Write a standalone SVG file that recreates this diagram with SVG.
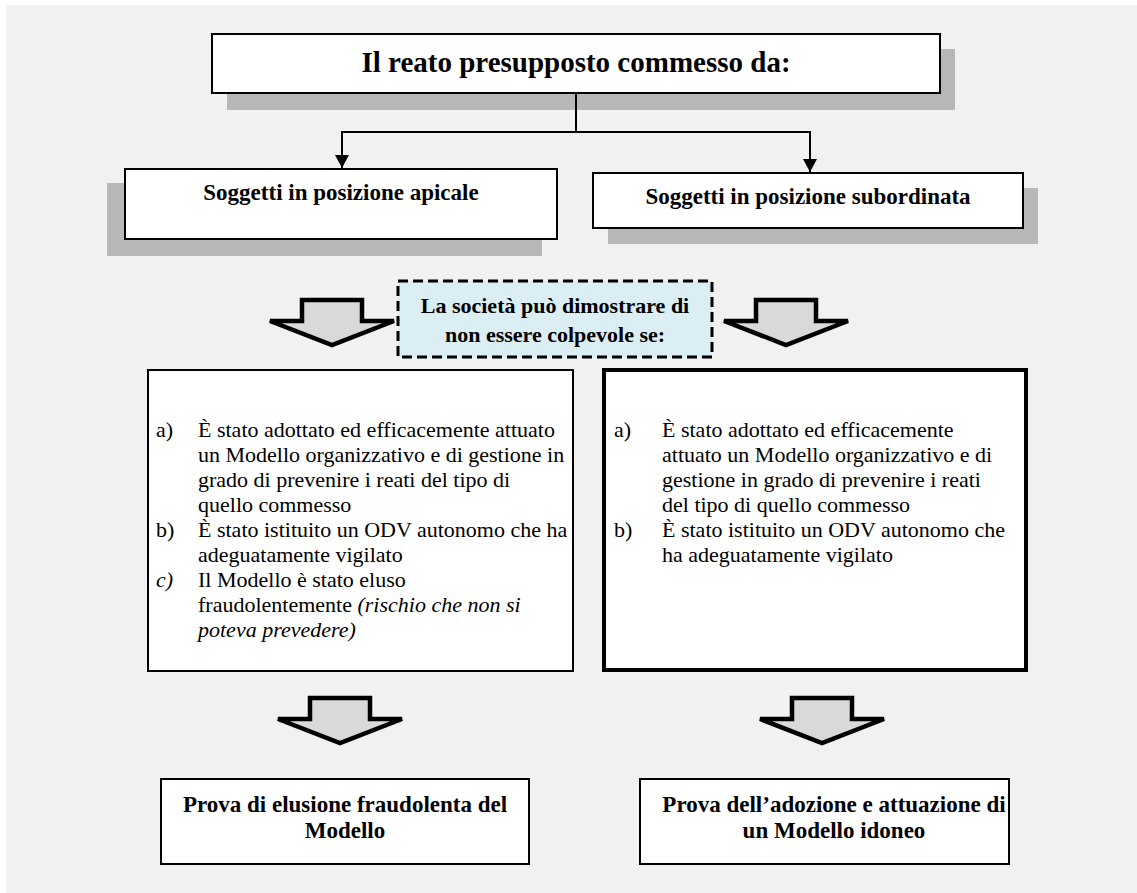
<svg xmlns="http://www.w3.org/2000/svg" width="1137" height="893" viewBox="0 0 1137 893">
<style>
.box{fill:#ffffff;stroke:#000;stroke-width:2}
.shadow{fill:#b7b7b7}
.lbl{font-family:"Liberation Serif","Times New Roman",serif;font-weight:bold;fill:#000;text-anchor:middle}
.txt{font-family:"Liberation Serif","Times New Roman",serif;font-size:22px;fill:#000}
.it{font-style:italic}
.conn{fill:none;stroke:#000;stroke-width:2}
.barrow{fill:#d9d9d9;stroke:#000;stroke-width:4.5;stroke-linejoin:miter}
</style>
<defs>
<marker id="ah" markerWidth="14" markerHeight="14" refX="13" refY="7" orient="auto" markerUnits="userSpaceOnUse" viewBox="0 0 14 14">
<path d="M0,0 L13,7 L0,14 Z" fill="#000"/>
</marker>
<polygon id="bigArrow" points="-30,0 30,0 30,21 62,21 0,45 -62,21 -30,21" class="barrow"/>
</defs>
<rect x="0" y="0" width="1137" height="893" fill="#ffffff"/>
<rect x="6" y="5" width="1131" height="888" fill="#f1f1f1"/>

<g id="top">
<rect class="shadow" x="227" y="49" width="728" height="61"/>
<rect class="box" x="212" y="34" width="728" height="59"/>
<text class="lbl" x="576" y="72" font-size="29">Il reato presupposto commesso da:</text>
</g>

<g id="apicale">
<rect class="shadow" x="107" y="183" width="435" height="73"/>
<rect class="box" x="125" y="169" width="432" height="70"/>
<text class="lbl" x="341" y="200" font-size="23">Soggetti in posizione apicale</text>
</g>

<g id="subordinata">
<rect class="shadow" x="608" y="188" width="430" height="56"/>
<rect class="box" x="593" y="173" width="430" height="55"/>
<text class="lbl" x="808" y="204" font-size="23">Soggetti in posizione subordinata</text>
</g>

<g id="societa">
<rect x="398" y="281" width="314" height="76" fill="#dbeef3" stroke="#000" stroke-width="3" stroke-dasharray="10,5"/>
<text class="lbl" x="555" y="313" font-size="22">La società può dimostrare di</text>
<text class="lbl" x="555" y="342" font-size="22">non essere colpevole se:</text>
</g>

<g id="lista-apicale">
<rect class="box" x="148" y="370" width="425" height="301"/>
<text class="txt" x="156" y="437">a)</text>
<text class="txt" x="198" y="437">È stato adottato ed efficacemente attuato</text>
<text class="txt" x="198" y="462">un Modello organizzativo e di gestione in</text>
<text class="txt" x="198" y="487">grado di prevenire i reati del tipo di</text>
<text class="txt" x="198" y="512">quello commesso</text>
<text class="txt" x="156" y="537">b)</text>
<text class="txt" x="198" y="537">È stato istituito un ODV autonomo che ha</text>
<text class="txt" x="198" y="562">adeguatamente vigilato</text>
<text class="txt it" x="156" y="587">c)</text>
<text class="txt" x="198" y="587">Il Modello è stato eluso</text>
<text class="txt" x="198" y="612">fraudolentemente <tspan class="it">(rischio che non si</tspan></text>
<text class="txt it" x="198" y="637">poteva prevedere)</text>
</g>

<g id="lista-subordinata">
<rect x="604" y="370" width="422" height="300" fill="#fff" stroke="#000" stroke-width="4"/>
<text class="txt" x="614" y="437">a)</text>
<text class="txt" x="662" y="437">È stato adottato ed efficacemente</text>
<text class="txt" x="662" y="462">attuato un Modello organizzativo e di</text>
<text class="txt" x="662" y="487">gestione in grado di prevenire i reati</text>
<text class="txt" x="662" y="512">del tipo di quello commesso</text>
<text class="txt" x="614" y="537">b)</text>
<text class="txt" x="662" y="537">È stato istituito un ODV autonomo che</text>
<text class="txt" x="662" y="562">ha adeguatamente vigilato</text>
</g>

<g id="prova-elusione">
<rect class="box" x="161" y="779" width="368" height="85"/>
<text class="lbl" x="345" y="812" font-size="23">Prova di elusione fraudolenta del</text>
<text class="lbl" x="345" y="838" font-size="23">Modello</text>
</g>

<g id="prova-adozione">
<rect class="box" x="640" y="779" width="369" height="85"/>
<text class="lbl" x="834" y="812" font-size="23">Prova dell’adozione e attuazione di</text>
<text class="lbl" x="834" y="838" font-size="23">un Modello idoneo</text>
</g>

<g id="connectors">
<path class="conn" d="M576,93 V132 H342 V168" marker-end="url(#ah)"/>
<path class="conn" d="M576,132 H810 V172" marker-end="url(#ah)"/>
<use href="#bigArrow" x="332" y="300"/>
<use href="#bigArrow" x="786" y="300"/>
<use href="#bigArrow" x="340" y="698"/>
<use href="#bigArrow" x="822" y="698"/>
</g>
</svg>
